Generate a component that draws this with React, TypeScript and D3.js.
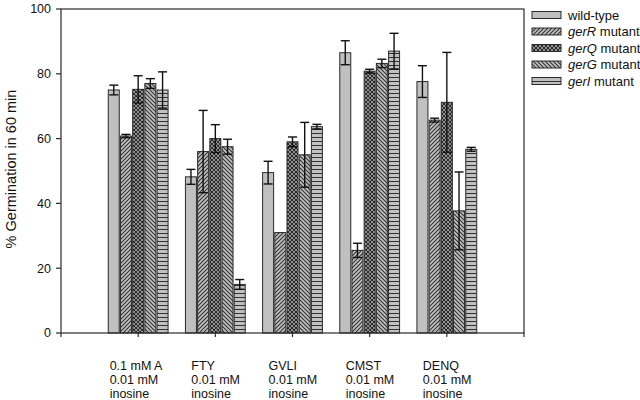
import React from "react";
import * as d3 from "d3";

const categories: string[][] = [
  ["0.1 mM A", "0.01 mM", "inosine"],
  ["FTY", "0.01 mM", "inosine"],
  ["GVLI", "0.01 mM", "inosine"],
  ["CMST", "0.01 mM", "inosine"],
  ["DENQ", "0.01 mM", "inosine"],
];
const seriesNames = ["wild-type", "gerR", "gerQ", "gerG", "gerI"];
const wildType = [75, 48.2, 49.5, 86.5, 77.6];
const wildTypeErr = [1.5, 2.3, 3.5, 3.7, 4.9];
const gerR = [60.8, 56, 31, 25.5, 65.7];
const gerRErr = [0.5, 12.7, 0, 2.2, 0.6];
const gerQ = [75.2, 60, 59, 80.8, 71.2];
const gerQErr = [4.2, 4.3, 1.5, 0.6, 15.4];
const gerG = [77, 57.5, 55, 83.2, 37.7];
const gerGErr = [1.5, 2.3, 10, 1.3, 12];
const gerI = [75, 15, 63.7, 87, 56.7];
const gerIErr = [5.6, 1.5, 0.7, 5.5, 0.6];
const yTicks = [0, 20, 40, 60, 80, 100];

const values = [wildType, gerR, gerQ, gerG, gerI];
const errors = [wildTypeErr, gerRErr, gerQErr, gerGErr, gerIErr];
const fills = ["#c0c0c0", "url(#pR)", "url(#pQ)", "url(#pG)", "url(#pI)"];

const FONT = "'Liberation Sans', Arial, sans-serif";

export default function App() {
  const left = 61, right = 524, top = 9, bottom = 333;
  const x = d3.scaleLinear().domain([0, 6]).range([left, right]);
  const y = d3.scaleLinear().domain([0, 100]).range([bottom, top]);
  const slot = 12.2, bw = 11;
  const stroke = "#2a2a2a";

  return (
    <svg width={640} height={400} style={{ position: "absolute", left: 0, top: 0, background: "#fff" }} fontFamily={FONT}>
      <defs>
        <pattern id="pR" width={4} height={4} patternUnits="userSpaceOnUse">
          <rect width={4} height={4} fill="#c0c0c0" />
          <path d="M-1,1 L1,-1 M0,4 L4,0 M3,5 L5,3" stroke="#333" strokeWidth={1.1} />
        </pattern>
        <pattern id="pG" width={4} height={4} patternUnits="userSpaceOnUse">
          <rect width={4} height={4} fill="#c0c0c0" />
          <path d="M-1,3 L1,5 M0,0 L4,4 M3,-1 L5,1" stroke="#333" strokeWidth={1.1} />
        </pattern>
        <pattern id="pQ" width={4} height={4} patternUnits="userSpaceOnUse">
          <rect width={4} height={4} fill="#bbbbbb" />
          <path d="M-1,1 L1,-1 M0,4 L4,0 M3,5 L5,3 M-1,3 L1,5 M0,0 L4,4 M3,-1 L5,1" stroke="#222" strokeWidth={1.1} />
        </pattern>
        <pattern id="pI" width={4} height={4} patternUnits="userSpaceOnUse">
          <rect width={4} height={4} fill="#c0c0c0" />
          <path d="M0,1.5 L4,1.5" stroke="#333" strokeWidth={1} />
        </pattern>
      </defs>

      {/* bars */}
      {categories.map((_, ci) =>
        values.map((vals, si) => {
          const cx = x(ci + 1) + (si - 2) * slot;
          return (
            <rect key={`b${ci}-${si}`} x={cx - bw / 2} y={y(vals[ci])} width={bw}
              height={y(0) - y(vals[ci])} fill={fills[si]} stroke={stroke} strokeWidth={1} />
          );
        })
      )}
      {/* error bars */}
      {categories.map((_, ci) =>
        values.map((vals, si) => {
          const e = errors[si][ci];
          if (!e) return null;
          const cx = x(ci + 1) + (si - 2) * slot;
          const y1 = y(vals[ci] + e), y0 = y(vals[ci] - e);
          return (
            <g key={`e${ci}-${si}`} stroke="#111" strokeWidth={1.4}>
              <line x1={cx} x2={cx} y1={y1} y2={y0} />
              <line x1={cx - 4.5} x2={cx + 4.5} y1={y1} y2={y1} />
              <line x1={cx - 4.5} x2={cx + 4.5} y1={y0} y2={y0} />
            </g>
          );
        })
      )}

      {/* frame */}
      <rect x={left} y={top} width={right - left} height={bottom - top} fill="none" stroke={stroke} strokeWidth={1.2} />

      {/* y axis */}
      {yTicks.map((t) => (
        <g key={`y${t}`}>
          <line x1={left - 5} x2={left} y1={y(t)} y2={y(t)} stroke={stroke} strokeWidth={1.2} />
          <text x={left - 10} y={y(t)} dy="0.35em" textAnchor="end" fontSize={12.5} fill="#111">{t}</text>
        </g>
      ))}
      <text transform={`translate(16,169) rotate(-90)`} textAnchor="middle" fontSize={14.5} fill="#111">
        % Germination in 60 min
      </text>

      {/* x axis ticks */}
      {d3.range(0, 7).map((i) => (
        <line key={`xt${i}`} x1={x(i)} x2={x(i)} y1={bottom} y2={bottom + 4} stroke={stroke} strokeWidth={1.2} />
      ))}
      {categories.map((lines, ci) => {
        const blockW = ci === 0 ? 57 : 48;
        const lx = x(ci + 1) - blockW / 2;
        return (
          <text key={`xl${ci}`} fontSize={12.5} fill="#111">
            {lines.map((l, li) => (
              <tspan key={li} x={lx} y={369.5 + li * 14}>{l}</tspan>
            ))}
          </text>
        );
      })}

      {/* legend */}
      {seriesNames.map((name, si) => {
        const ry = 15 + si * 16.5;
        return (
          <g key={`lg${si}`}>
            <rect x={532} y={ry - 3.5} width={29} height={7} fill={fills[si]} stroke={stroke} strokeWidth={1} />
            <text x={568} y={ry} dy="0.35em" fontSize={13} fill="#111">
              {si === 0 ? name : (
                <>
                  <tspan fontStyle="italic">{name}</tspan>
                  <tspan> mutant</tspan>
                </>
              )}
            </text>
          </g>
        );
      })}
    </svg>
  );
}
